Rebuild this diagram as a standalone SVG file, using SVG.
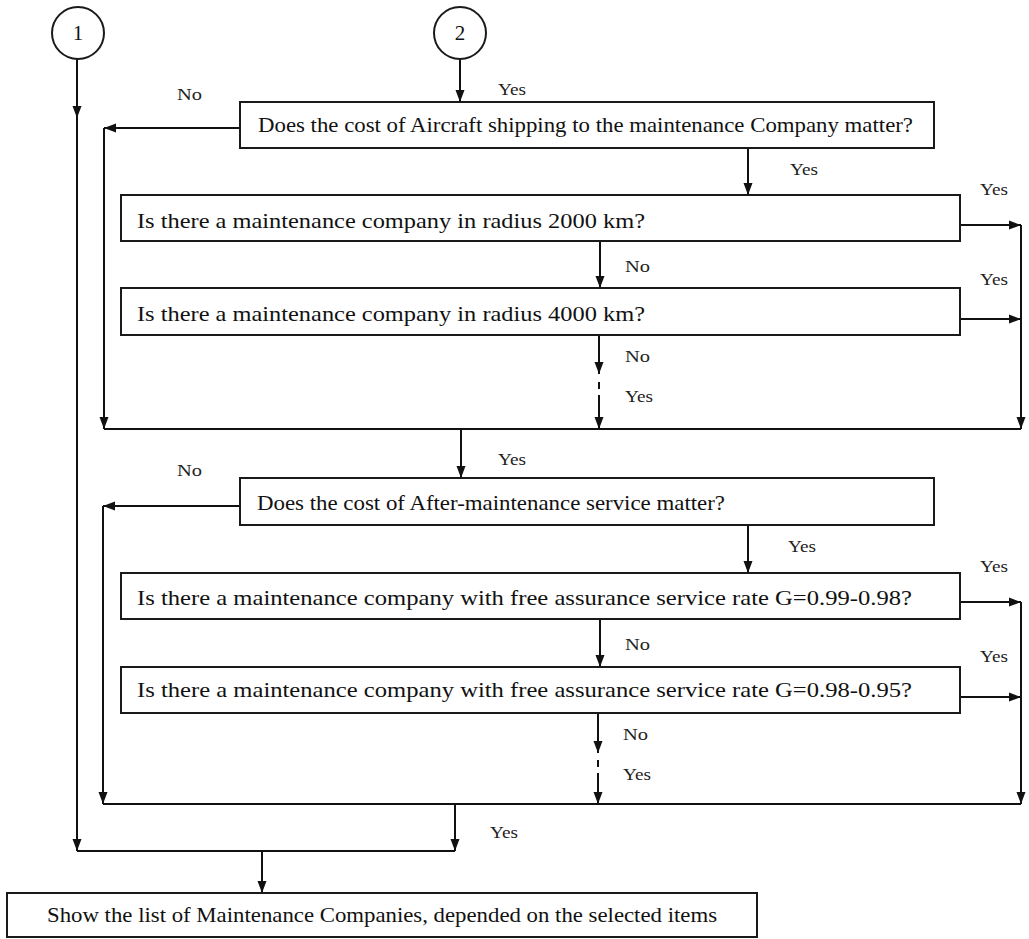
<svg xmlns="http://www.w3.org/2000/svg" width="1029" height="939" viewBox="0 0 1029 939">
<style>
.box{fill:#fff;stroke:#1a1a1a;stroke-width:2}
.txt{font-family:"Liberation Serif","Times New Roman",serif;font-size:21px;fill:#111}
.lbl{font-family:"Liberation Serif","Times New Roman",serif;font-size:17px;fill:#222}
.ln{fill:none;stroke:#111;stroke-width:2}
</style>
<defs>
<marker id="ah" markerUnits="userSpaceOnUse" markerWidth="12" markerHeight="12" viewBox="0 0 12 12" refX="12" refY="6" orient="auto">
<path d="M0,1.5 L12,6 L0,10.5 Z" fill="#111"/>
</marker>
</defs>
<rect width="1029" height="939" fill="#fff"/>

<g id="connectors">
<path class="ln" d="M77,59 V118" marker-end="url(#ah)"/>
<path class="ln" d="M77,116 V851" marker-end="url(#ah)"/>
<path class="ln" d="M460,59 V102" marker-end="url(#ah)"/>
<path class="ln" d="M240,128 H104" marker-end="url(#ah)"/>
<path class="ln" d="M104,128 V429" marker-end="url(#ah)"/>
<path class="ln" d="M748,148 V195" marker-end="url(#ah)"/>
<path class="ln" d="M960,225 H1021" marker-end="url(#ah)"/>
<path class="ln" d="M1021,225 V429" marker-end="url(#ah)"/>
<path class="ln" d="M600,241 V288" marker-end="url(#ah)"/>
<path class="ln" d="M960,319 H1021" marker-end="url(#ah)"/>
<path class="ln" d="M599,335 V374" marker-end="url(#ah)"/>
<path class="ln" d="M599,382 V389 M599,395 V402"/>
<path class="ln" d="M599,402 V429" marker-end="url(#ah)"/>
<path class="ln" d="M104,429 H1021"/>
<path class="ln" d="M461,429 V478" marker-end="url(#ah)"/>
<path class="ln" d="M240,506 H103" marker-end="url(#ah)"/>
<path class="ln" d="M103,506 V804" marker-end="url(#ah)"/>
<path class="ln" d="M748,525 V573" marker-end="url(#ah)"/>
<path class="ln" d="M960,602 H1021" marker-end="url(#ah)"/>
<path class="ln" d="M1021,602 V804" marker-end="url(#ah)"/>
<path class="ln" d="M600,619 V667" marker-end="url(#ah)"/>
<path class="ln" d="M960,697 H1021" marker-end="url(#ah)"/>
<path class="ln" d="M598,713 V753" marker-end="url(#ah)"/>
<path class="ln" d="M598,760 V767 M598,773 V780"/>
<path class="ln" d="M598,780 V804" marker-end="url(#ah)"/>
<path class="ln" d="M103,804 H1021"/>
<path class="ln" d="M455,804 V851" marker-end="url(#ah)"/>
<path class="ln" d="M77,851 H455"/>
<path class="ln" d="M262,851 V893" marker-end="url(#ah)"/>
</g>

<g id="labels">
<text class="lbl" x="177" y="100" textLength="25" lengthAdjust="spacingAndGlyphs">No</text>
<text class="lbl" x="498" y="95" textLength="28" lengthAdjust="spacingAndGlyphs">Yes</text>
<text class="lbl" x="790" y="175" textLength="28" lengthAdjust="spacingAndGlyphs">Yes</text>
<text class="lbl" x="980" y="195" textLength="28" lengthAdjust="spacingAndGlyphs">Yes</text>
<text class="lbl" x="625" y="272" textLength="25" lengthAdjust="spacingAndGlyphs">No</text>
<text class="lbl" x="980" y="285" textLength="28" lengthAdjust="spacingAndGlyphs">Yes</text>
<text class="lbl" x="625" y="362" textLength="25" lengthAdjust="spacingAndGlyphs">No</text>
<text class="lbl" x="625" y="402" textLength="28" lengthAdjust="spacingAndGlyphs">Yes</text>
<text class="lbl" x="498" y="465" textLength="28" lengthAdjust="spacingAndGlyphs">Yes</text>
<text class="lbl" x="177" y="476" textLength="25" lengthAdjust="spacingAndGlyphs">No</text>
<text class="lbl" x="788" y="552" textLength="28" lengthAdjust="spacingAndGlyphs">Yes</text>
<text class="lbl" x="980" y="572" textLength="28" lengthAdjust="spacingAndGlyphs">Yes</text>
<text class="lbl" x="625" y="650" textLength="25" lengthAdjust="spacingAndGlyphs">No</text>
<text class="lbl" x="980" y="662" textLength="28" lengthAdjust="spacingAndGlyphs">Yes</text>
<text class="lbl" x="623" y="740" textLength="25" lengthAdjust="spacingAndGlyphs">No</text>
<text class="lbl" x="623" y="780" textLength="28" lengthAdjust="spacingAndGlyphs">Yes</text>
<text class="lbl" x="490" y="838" textLength="28" lengthAdjust="spacingAndGlyphs">Yes</text>
</g>

<g id="c1">
<circle cx="78" cy="33" r="26" fill="#fff" stroke="#1a1a1a" stroke-width="2"/>
<text class="txt" x="78" y="40" text-anchor="middle">1</text>
</g>
<g id="c2">
<circle cx="460" cy="33" r="26" fill="#fff" stroke="#1a1a1a" stroke-width="2"/>
<text class="txt" x="460" y="40" text-anchor="middle">2</text>
</g>

<g id="q1">
<rect class="box" x="240" y="102" width="694" height="46"/>
<text class="txt" x="258" y="132" textLength="655" lengthAdjust="spacingAndGlyphs">Does the cost of Aircraft shipping to the maintenance Company matter?</text>
</g>
<g id="q2">
<rect class="box" x="121" y="195" width="839" height="46"/>
<text class="txt" x="137" y="228" textLength="508" lengthAdjust="spacingAndGlyphs">Is there a maintenance company in radius 2000 km?</text>
</g>
<g id="q3">
<rect class="box" x="121" y="288" width="839" height="47"/>
<text class="txt" x="137" y="321" textLength="508" lengthAdjust="spacingAndGlyphs">Is there a maintenance company in radius 4000 km?</text>
</g>
<g id="q4">
<rect class="box" x="240" y="478" width="694" height="47"/>
<text class="txt" x="257" y="510" textLength="468" lengthAdjust="spacingAndGlyphs">Does the cost of After-maintenance service matter?</text>
</g>
<g id="q5">
<rect class="box" x="121" y="573" width="839" height="46"/>
<text class="txt" x="137" y="605" textLength="775" lengthAdjust="spacingAndGlyphs">Is there a maintenance company with free assurance service rate G=0.99-0.98?</text>
</g>
<g id="q6">
<rect class="box" x="121" y="667" width="839" height="46"/>
<text class="txt" x="137" y="697" textLength="775" lengthAdjust="spacingAndGlyphs">Is there a maintenance company with free assurance service rate G=0.98-0.95?</text>
</g>
<g id="result">
<rect class="box" x="7" y="893" width="750" height="44"/>
<text class="txt" x="47" y="922" textLength="670" lengthAdjust="spacingAndGlyphs">Show the list of Maintenance Companies, depended on the selected items</text>
</g>
</svg>
